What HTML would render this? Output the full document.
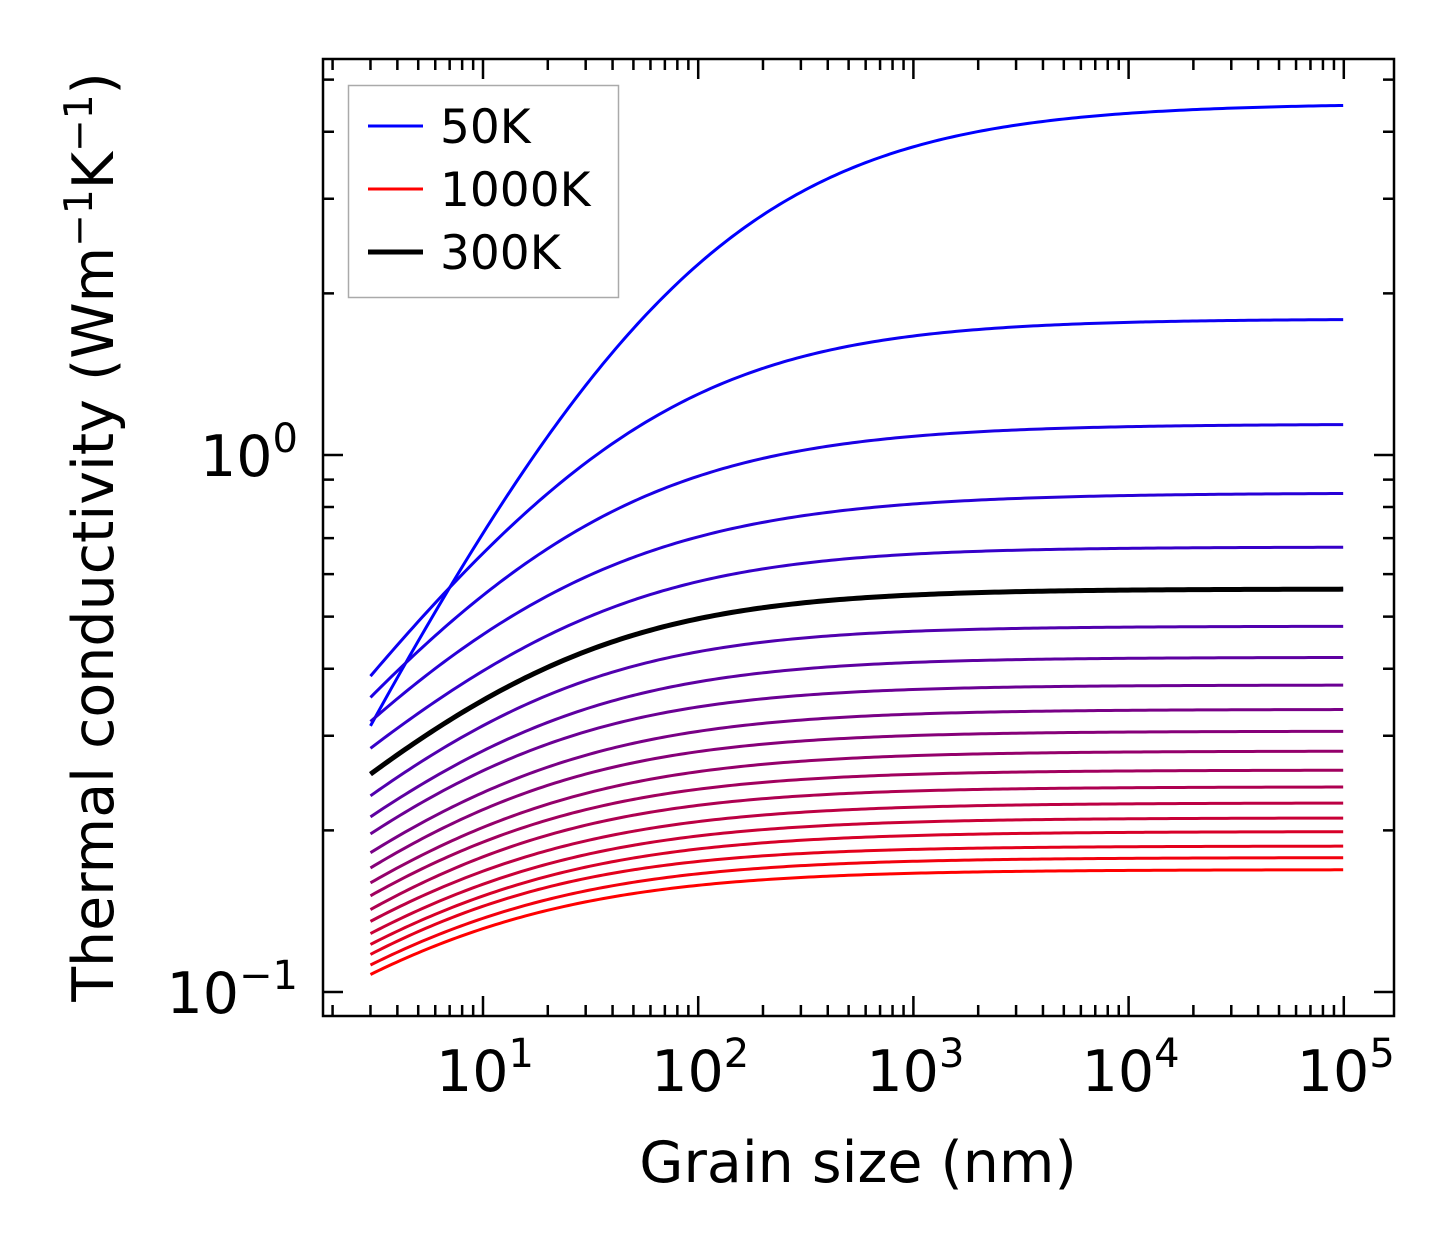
<!DOCTYPE html>
<html><head><meta charset="utf-8"><style>
html,body{margin:0;padding:0;background:#fff;}
svg{display:block;font-family:"DejaVu Sans","Liberation Sans",sans-serif;}
</style></head><body>
<svg id="chart" width="1454" height="1254" viewBox="0 0 1454 1254" xmlns="http://www.w3.org/2000/svg">
<rect width="1454" height="1254" fill="#fff"/>
<g id="curves"></g>
<g id="axes"></g>
<text x="858" y="1182" font-size="57" text-anchor="middle">Grain size (nm)</text>
<text transform="translate(113,537) rotate(-90)" font-size="57" text-anchor="middle">Thermal conductivity (Wm<tspan font-size="39" dy="-21">−1</tspan><tspan dy="21">K</tspan><tspan font-size="39" dy="-21">−1</tspan><tspan dy="21">)</tspan></text>
<g>
<rect x="348.5" y="85.5" width="270" height="212" fill="#fff" stroke="#aaa" stroke-width="1.5"/>
<line x1="368" y1="126" x2="423" y2="126" stroke="#0000ff" stroke-width="3"/>
<text x="440" y="143" font-size="47">50K</text>
<line x1="368" y1="189" x2="423" y2="189" stroke="#ff0000" stroke-width="3"/>
<text x="440" y="206" font-size="47">1000K</text>
<line x1="368" y1="252" x2="423" y2="252" stroke="#000" stroke-width="5"/>
<text x="440" y="269" font-size="47">300K</text>
</g>
</svg>
<script>
const temperatures = [50,100,150,200,250,300,350,400,450,500,550,600,650,700,750,800,850,900,950,1000];
const grainSizes = [3,10,43,100,240,1000,10000,100000];
const kAt3nm = [0.311,0.383,0.357,0.318,0.285,0.256,0.233,0.213,0.197,0.182,0.171,0.160,0.152,0.143,0.136,0.129,0.123,0.118,0.113,0.108];
const kAt10nm = [0.716,0.663,0.551,0.462,0.396,0.350,0.310,0.280,0.2525,0.2318,0.2136,0.1994,0.1862,0.1746,0.1644,0.1555,0.1477,0.1403,0.1339,0.1277];
const kAt43nm = [1.637,1.080,0.800,0.632,0.530,0.458,0.401,0.354,0.320,0.291,0.267,0.246,0.229,0.214,0.201,0.189,0.179,0.170,0.162,0.154];
const kAt100nm = [2.249,1.261,0.898,0.698,0.575,0.491,0.426,0.3746,0.3365,0.3049,0.2787,0.2569,0.2388,0.2220,0.2082,0.1961,0.1854,0.1754,0.1673,0.1582];
const kAt240nm = [2.984,1.484,1.0086,0.773,0.627,0.530,0.456,0.401,0.357,0.322,0.292,0.269,0.250,0.2327,0.2173,0.2046,0.1935,0.1823,0.1731,0.1644];
const kAt1000nm = [3.73,1.666,1.089,0.818,0.660,0.548,0.472,0.4135,0.368,0.332,0.302,0.277,0.257,0.238,0.222,0.209,0.196,0.186,0.176,0.1674];
const kAt10000nm = [4.40,1.78,1.135,0.846,0.671,0.561,0.478,0.418,0.371,0.334,0.305,0.280,0.258,0.240,0.224,0.210,0.198,0.186,0.177,0.168];
const kBulk = [4.52,1.792,1.142,0.850,0.674,0.563,0.480,0.420,0.373,0.336,0.306,0.281,0.259,0.241,0.225,0.211,0.199,0.187,0.178,0.169];
const xTickExps = [1,2,3,4,5];
const yTickExps = [0,-1];
const highlightT = 300;

const NS = "http://www.w3.org/2000/svg";
const X0 = 483, XD = 215.2;
const Y0 = 455, YD = 537;
const L = 323, R = 1394, T = 59, B = 1016;
function xs(v){ return X0 + (Math.log10(v) - 1) * XD; }
function ys(v){ return Y0 - Math.log10(v) * YD; }

// smooth curve: least-squares fit of k = kBulk / (1 + (L0/L)^p)^q to the read points (log space)
function curvePath(i){
  const pts = [kAt3nm[i],kAt10nm[i],kAt43nm[i],kAt100nm[i],kAt240nm[i],kAt1000nm[i],kAt10000nm[i]];
  const kinf = kBulk[i];
  const model = (g, p, l0, q) => kinf / Math.pow(1 + Math.pow(l0 / g, p), q);
  let best = null;
  for (let p = 0.3; p <= 1.6; p += 0.02) {
    for (let le = -1.5; le <= 4; le += 0.025) {
      const l0 = Math.pow(10, le);
      for (let q = 0.5; q <= 2.01; q += 0.25) {
        let err = 0;
        for (let j = 0; j < pts.length; j++) {
          const r = Math.log10(model(grainSizes[j], p, l0, q)) - Math.log10(pts[j]);
          err += r * r * (j === 0 ? 3 : 1);
        }
        if (!best || err < best.err) best = {err, p, l0, q};
      }
    }
  }
  let path = "";
  for (let e = Math.log10(3); e <= 5.0001; e += 0.02) {
    const g = Math.pow(10, e);
    const k = model(g, best.p, best.l0, best.q);
    path += (path ? "L" : "M") + xs(g).toFixed(2) + "," + ys(k).toFixed(2);
  }
  return path;
}

const curves = document.getElementById('curves');
const paths = temperatures.map((t, i) => curvePath(i));
temperatures.forEach((t, i) => {
  const f = i / (temperatures.length - 1);
  const el = document.createElementNS(NS, 'path');
  el.setAttribute('d', paths[i]);
  el.setAttribute('fill', 'none');
  el.setAttribute('stroke', `rgb(${Math.round(255*f)},0,${Math.round(255*(1-f))})`);
  el.setAttribute('stroke-width', '3');
  
  
  curves.appendChild(el);
});
{
  const i = temperatures.indexOf(highlightT);
  const el = document.createElementNS(NS, 'path');
  el.setAttribute('d', paths[i]);
  el.setAttribute('fill', 'none');
  el.setAttribute('stroke', '#000');
  el.setAttribute('stroke-width', '5');
  
  
  curves.appendChild(el);
}

const axes = document.getElementById('axes');
let td = "";
function tickX(x, len){ td += `M${x},${B}v${-len}M${x},${T}v${len}`; }
function tickY(y, len){ td += `M${L},${y}h${len}M${R},${y}h${-len}`; }
for (let e = 0; e <= 5; e++) {
  for (let m = 1; m <= 9; m++) {
    const x = xs(m * Math.pow(10, e));
    if (x <= L || x >= R) continue;
    tickX(x, m === 1 ? 20 : 11);
  }
}
for (let e = -2; e <= 0; e++) {
  for (let m = 1; m <= 9; m++) {
    const y = ys(m * Math.pow(10, e));
    if (y <= T || y >= B) continue;
    tickY(y, m === 1 ? 20 : 11);
  }
}
const ticks = document.createElementNS(NS, 'path');
ticks.setAttribute('d', td);
ticks.setAttribute('stroke', '#000');
ticks.setAttribute('stroke-width', '2.5');


axes.appendChild(ticks);
const frame = document.createElementNS(NS, 'rect');
frame.setAttribute('x', L); frame.setAttribute('y', T);
frame.setAttribute('width', R - L); frame.setAttribute('height', B - T);
frame.setAttribute('fill', 'none'); frame.setAttribute('stroke', '#000'); frame.setAttribute('stroke-width', '2.5');


axes.appendChild(frame);

xTickExps.forEach(e => {
  const t = document.createElementNS(NS, 'text');
  t.setAttribute('x', xs(Math.pow(10, e)) + 2);
  t.setAttribute('y', 1091);
  t.setAttribute('font-size', '57');
  t.setAttribute('text-anchor', 'middle');
  t.innerHTML = `10<tspan font-size="40" dy="-24">${e}</tspan>`;
  
  
  axes.appendChild(t);
});
yTickExps.forEach(e => {
  const t = document.createElementNS(NS, 'text');
  t.setAttribute('x', 298);
  t.setAttribute('y', ys(Math.pow(10, e)) + 21);
  t.setAttribute('font-size', '57');
  t.setAttribute('text-anchor', 'end');
  t.innerHTML = `10<tspan font-size="40" dy="-24">${e < 0 ? '−' + (-e) : e}</tspan>`;
  
  
  axes.appendChild(t);
});
</script>
</body></html>
